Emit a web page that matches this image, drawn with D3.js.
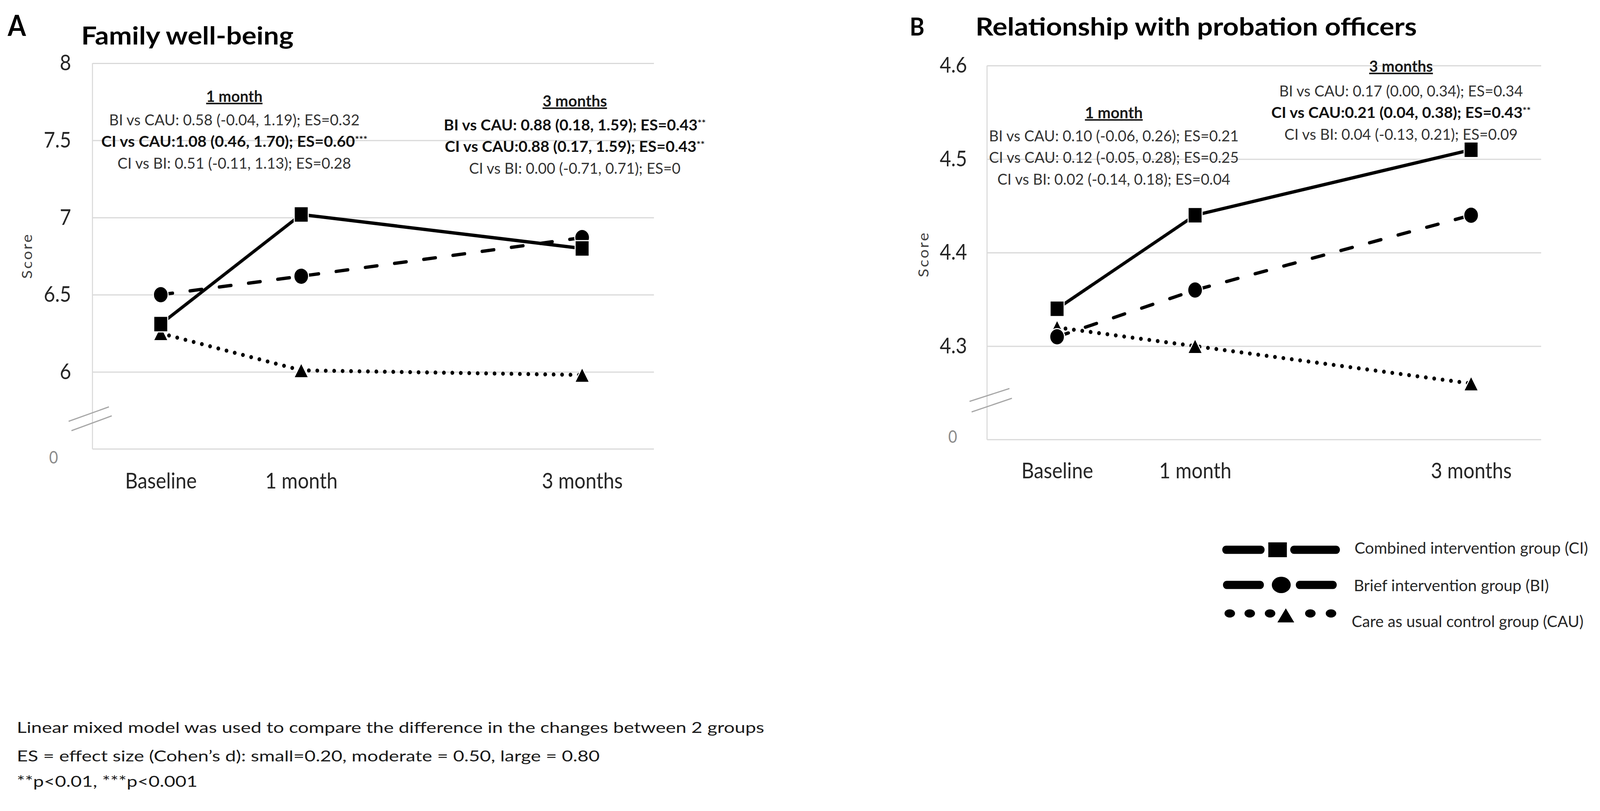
<!DOCTYPE html>
<html>
<head>
<meta charset="utf-8">
<script src="https://cdn.jsdelivr.net/npm/d3@7"></script>
<style>
  html, body { margin: 0; padding: 0; background: #fff; overflow: hidden; }
  #fig svg { display: block; width: 100vw; height: 100vh; }
  text { font-family: Lato, "Open Sans", sans-serif; }
</style>
</head>
<body>
<div id="fig"></div>
<script>
// ---- data ----
const timeLabels = ["Baseline", "1 month", "3 months"];
const months = [0, 1, 3];
const groupLabels = ["Combined intervention group (CI)", "Brief intervention group (BI)", "Care as usual control group (CAU)"];

const familyCI = [6.31, 7.02, 6.80];
const familyBI = [6.50, 6.62, 6.87];
const familyCAU = [6.25, 6.01, 5.98];
const familyTicks = [6, 6.5, 7, 7.5, 8];
const familyTickLabels = ["6", "6.5", "7", "7.5", "8"];

const officerCI = [4.34, 4.44, 4.51];
const officerBI = [4.31, 4.36, 4.44];
const officerCAU = [4.32, 4.30, 4.26];
const officerTicks = [4.3, 4.4, 4.5, 4.6];
const officerTickLabels = ["4.3", "4.4", "4.5", "4.6"];

const familyNote1 = ["BI vs CAU: 0.58 (-0.04, 1.19); ES=0.32", "CI vs CAU:1.08  (0.46, 1.70); ES=0.60***", "CI vs BI: 0.51 (-0.11, 1.13); ES=0.28"];
const familyNote1Bold = [false, true, false];
const familyNote3 = ["BI vs CAU: 0.88 (0.18, 1.59); ES=0.43**", "CI vs CAU:0.88  (0.17, 1.59); ES=0.43**", "CI vs BI: 0.00 (-0.71, 0.71); ES=0"];
const familyNote3Bold = [true, true, false];
const officerNote1 = ["BI vs CAU: 0.10 (-0.06, 0.26); ES=0.21", "CI vs CAU: 0.12 (-0.05, 0.28); ES=0.25", "CI vs BI: 0.02 (-0.14, 0.18); ES=0.04"];
const officerNote1Bold = [false, false, false];
const officerNote3 = ["BI vs CAU: 0.17 (0.00, 0.34); ES=0.34", "CI vs CAU:0.21 (0.04, 0.38); ES=0.43**", "CI vs BI: 0.04 (-0.13, 0.21); ES=0.09"];
const officerNote3Bold = [false, true, false];

const footnotes = [
  "Linear mixed model was used to compare the difference in the changes between 2 groups",
  "ES = effect size (Cohen\u2019s d): small=0.20, moderate = 0.50, large = 0.80",
  "**p<0.01, ***p<0.001"
];

// ---- svg ----
// the figure is laid out in a 4568x2077 box and stretched to fill the window
const W = 4568, H = 2077;
const svg = d3.select("#fig").append("svg")
  .attr("viewBox", `0 0 ${W} ${H}`)
  .attr("preserveAspectRatio", "none");
svg.append("rect").attr("width", W).attr("height", H).attr("fill", "#fff");

const lineStyles = [
  {dash: null, cap: "butt", width: 8.5},
  {dash: "34 50", cap: "round", width: 8.5},
  {dash: "0.1 24", cap: "round", width: 10.5}
];

function markerPath(k) {
  if (k === 0) return "M-20,-20H20V20H-20Z";
  if (k === 1) return d3.symbol().type(d3.symbolCircle).size(Math.PI * 21 * 21)();
  return "M0,-19L21,19L-21,19Z";
}

function addText(g, str, x, y, opts) {
  const t = g.append("text").attr("x", x).attr("y", y)
    .attr("text-anchor", opts.anchor || "middle")
    .attr("font-size", opts.size)
    .attr("font-weight", opts.bold ? 700 : 400)
    .attr("fill", opts.fill || "#262626");
  const m = str.match(/^(.*?)(\*+)$/);
  if (m) {
    t.append("tspan").text(m[1]);
    t.append("tspan").attr("font-size", opts.size * 0.62).attr("dy", -opts.size * 0.3).text(m[2]);
  } else {
    t.text(str);
  }
  if (opts.len) t.attr("textLength", opts.len).attr("lengthAdjust", "spacingAndGlyphs");
  if (opts.underline) t.attr("text-decoration", "underline");
  return t;
}

function drawPanel(cfg) {
  const g = svg.append("g");
  const x = d3.scaleLinear().domain([0, 3]).range(cfg.xRange);
  const y = d3.scaleLinear().domain(cfg.yDomain).range([cfg.bottom, cfg.top]);
  const plotW = cfg.right - cfg.left;

  // gridlines + tick labels
  g.append("g")
    .attr("transform", `translate(${cfg.left},0)`)
    .call(d3.axisLeft(y).tickValues(cfg.ticks).tickSize(-plotW).tickPadding(cfg.tickPad)
      .tickFormat((d, i) => cfg.tickLabels[i]))
    .call(s => s.select(".domain").remove())
    .call(s => s.selectAll(".tick line").attr("stroke", "#d9d9d9").attr("stroke-width", 3))
    .call(s => s.selectAll(".tick text").attr("font-size", 56).attr("fill", "#262626")
      .attr("font-family", "Lato, 'Open Sans', sans-serif"));

  // axis frame
  g.append("line").attr("x1", cfg.left).attr("x2", cfg.left)
    .attr("y1", y(cfg.yDomain[1])).attr("y2", cfg.bottom)
    .attr("stroke", "#d9d9d9").attr("stroke-width", 3);
  g.append("line").attr("x1", cfg.left).attr("x2", cfg.right)
    .attr("y1", cfg.bottom).attr("y2", cfg.bottom)
    .attr("stroke", "#d9d9d9").attr("stroke-width", 3);

  // broken-axis marks and the "0" label
  cfg.breaks.forEach(b => {
    g.append("line")
      .attr("x1", cfg.left + b[0]).attr("y1", cfg.bottom + b[1])
      .attr("x2", cfg.left + b[2]).attr("y2", cfg.bottom + b[3])
      .attr("stroke", "#a6a6a6").attr("stroke-width", 3);
  });
  g.append("text").attr("x", cfg.left + cfg.zeroPos[0]).attr("y", cfg.bottom + cfg.zeroPos[1])
    .attr("text-anchor", "middle").attr("dy", "0.35em")
    .attr("font-size", 44).attr("fill", "#8c8c8c").text("0");

  // x labels
  g.append("g")
    .attr("transform", `translate(0,${cfg.bottom})`)
    .call(d3.axisBottom(x).tickValues(months).tickSize(0).tickPadding(cfg.xPad)
      .tickFormat((d, i) => timeLabels[i]))
    .call(s => s.select(".domain").remove())
    .call(s => s.selectAll(".tick text").attr("font-size", 56).attr("fill", "#262626")
      .attr("font-family", "Lato, 'Open Sans', sans-serif"));

  // y title
  g.append("text")
    .attr("transform", `translate(${cfg.scorePos[0]},${cfg.scorePos[1]}) rotate(-90)`)
    .attr("text-anchor", "middle").attr("dy", "0.35em")
    .attr("font-size", 40).attr("letter-spacing", 4).attr("fill", "#404040")
    .text("Score");

  // panel letter and title
  g.append("text").attr("x", cfg.letterPos[0]).attr("y", cfg.letterPos[1])
    .attr("font-family", "'Liberation Sans', Arial, sans-serif")
    .attr("font-weight", 700).attr("font-size", cfg.letterSize).attr("fill", "#000")
    .text(cfg.letter);
  addText(g, cfg.title, cfg.titlePos[0], cfg.titlePos[1],
    {anchor: "start", size: 64, bold: true, fill: "#000", len: cfg.titleLen});

  // annotation blocks
  cfg.notes.forEach(n => {
    addText(g, n.head, n.cx, n.headY,
      {size: 40, bold: true, fill: "#1a1a1a", underline: true, len: n.headLen});
    n.lines.forEach((ln, i) => {
      addText(g, ln, n.cx, n.lineY + i * 55.5,
        {size: 38, bold: n.bold[i], fill: n.bold[i] ? "#111" : "#333", len: n.lens[i]});
    });
  });

  // series lines
  const line = d3.line().x(d => x(d.m)).y(d => y(d.v));
  const series = cfg.series.map(vals => vals.map((v, i) => ({m: months[i], v: v})));
  [2, 1, 0].forEach(k => {
    g.append("path").datum(series[k])
      .attr("d", line).attr("fill", "none").attr("stroke", "#000")
      .attr("stroke-width", lineStyles[k].width)
      .attr("stroke-linecap", lineStyles[k].cap)
      .attr("stroke-dasharray", lineStyles[k].dash);
  });
  // markers (CAU under BI under CI)
  [2, 1, 0].forEach(k => {
    g.selectAll(null).data(series[k]).join("path")
      .attr("transform", d => `translate(${x(d.m)},${y(d.v)})`)
      .attr("d", markerPath(k))
      .attr("fill", "#000").attr("stroke", "#fff").attr("stroke-width", 3);
  });
}

drawPanel({
  letter: "A", letterPos: [22, 92], letterSize: 75,
  title: "Family well-being", titlePos: [232, 114], titleLen: 606,
  left: 264, right: 1867, top: 162, bottom: 1150,
  xRange: [459, 1662], yDomain: [5.5, 8],
  ticks: familyTicks, tickLabels: familyTickLabels, tickPad: 61, xPad: 61,
  breaks: [[-68, -71, 47, -108], [-60, -47, 55, -85]],
  zeroPos: [-111, 22], scorePos: [77, 655],
  series: [familyCI, familyBI, familyCAU],
  notes: [
    {head: "1 month", cx: 669, headY: 261, headLen: 161, lineY: 321,
      lines: familyNote1, bold: familyNote1Bold, lens: [715, 760, 667]},
    {head: "3 months", cx: 1641, headY: 273, headLen: 184, lineY: 334,
      lines: familyNote3, bold: familyNote3Bold, lens: [748, 742, 604]}
  ]
});

drawPanel({
  letter: "B", letterPos: [2597, 91], letterSize: 64,
  title: "Relationship with probation officers", titlePos: [2785, 91], titleLen: 1260,
  left: 2818, right: 4400, top: 168, bottom: 1126,
  xRange: [3018, 4200], yDomain: [4.2, 4.6],
  ticks: officerTicks, tickLabels: officerTickLabels, tickPad: 57, xPad: 59,
  breaks: [[-50, -98, 64, -131], [-44, -71, 71, -106]],
  zeroPos: [-98, -7], scorePos: [2637, 651],
  series: [officerCI, officerBI, officerCAU],
  notes: [
    {head: "1 month", cx: 3180, headY: 303, headLen: 165, lineY: 362,
      lines: officerNote1, bold: officerNote1Bold, lens: [713, 713, 665]},
    {head: "3 months", cx: 4000, headY: 184, headLen: 182, lineY: 247,
      lines: officerNote3, bold: officerNote3Bold, lens: [696, 741, 666]}
  ]
});

// ---- legend ----
const legend = svg.append("g");
const legendRows = [
  {y: 1408, textY: 1418, textX: 3867, len: 667},
  {y: 1498, textY: 1514, textX: 3865, len: 557},
  {y: 1571, textY: 1606, textX: 3859, len: 662}
];
// CI
legend.append("path").attr("d", `M3500,${legendRows[0].y}H3600M3694,${legendRows[0].y}H3815`)
  .attr("stroke", "#000").attr("stroke-width", 21).attr("stroke-linecap", "round");
legend.append("rect").attr("x", 3621).attr("y", legendRows[0].y - 19).attr("width", 53).attr("height", 38).attr("fill", "#000");
// BI
legend.append("path").attr("d", `M3502,${legendRows[1].y}H3598M3710,${legendRows[1].y}H3806`)
  .attr("stroke", "#000").attr("stroke-width", 21).attr("stroke-linecap", "round");
legend.append("ellipse").attr("cx", 3658).attr("cy", legendRows[1].y).attr("rx", 27).attr("ry", 21).attr("fill", "#000");
// CAU
[3511, 3568, 3626, 3741, 3800].forEach(cx => {
  legend.append("ellipse").attr("cx", cx).attr("cy", legendRows[2].y).attr("rx", 15).attr("ry", 10.5).attr("fill", "#000");
});
legend.append("path").attr("d", "M3671,1558L3695,1594L3647,1594Z").attr("fill", "#000");

legendRows.forEach((r, i) => {
  addText(legend, groupLabels[i], r.textX, r.textY, {anchor: "start", size: 40, fill: "#262626", len: r.len});
});

// ---- footnote ----
const footLens = [2134, 1664, 516];
const footY = [1877, 1950, 2015];
footnotes.forEach((f, i) => {
  svg.append("text").attr("x", 48).attr("y", footY[i])
    .attr("font-size", 38).attr("fill", "#1a1a1a")
    .attr("textLength", footLens[i]).attr("lengthAdjust", "spacingAndGlyphs")
    .text(f);
});
</script>
</body>
</html>
